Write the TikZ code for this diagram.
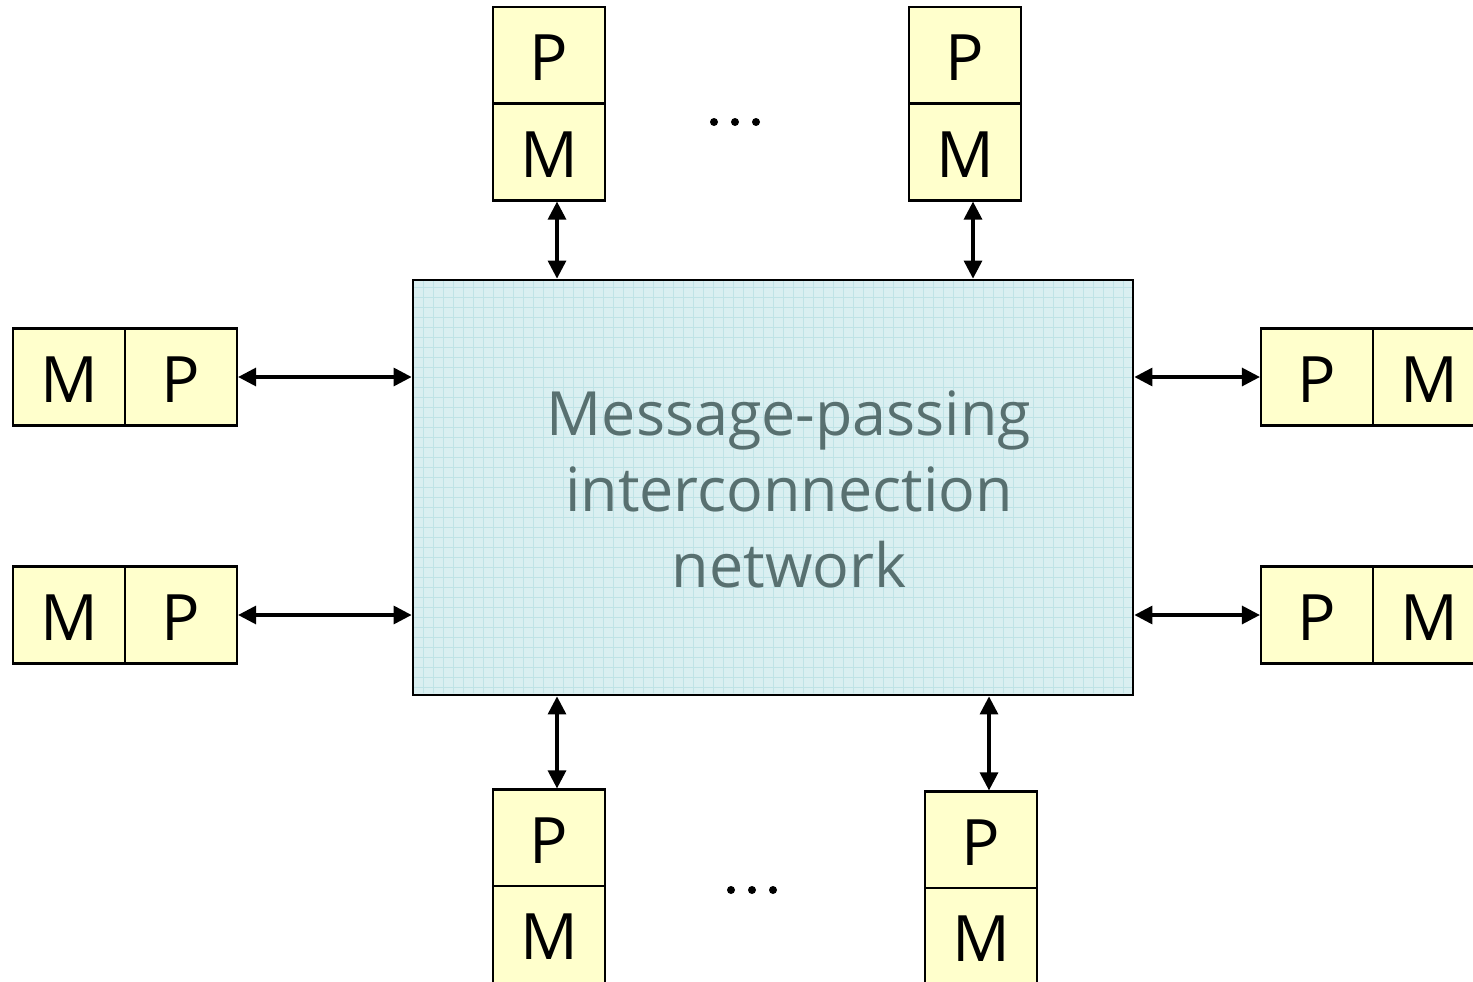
\documentclass[tikz,border=0pt]{standalone}
\usepackage{fontspec}
\setmainfont{Open Sans}
\usetikzlibrary{arrows.meta,calc}
\definecolor{cellfill}{HTML}{FFFFCC}
\definecolor{netfill}{HTML}{DAEFF1}
\definecolor{netgrid}{HTML}{BFE3E6}
\definecolor{nettext}{HTML}{587070}
\tikzset{
  cell/.style={draw=black, line width=2.2pt, fill=cellfill, inner sep=0pt,
    minimum width=112pt, minimum height=97pt, text height=50pt, text depth=0pt,
    font=\fontsize{64}{64}\selectfont},
  netbox/.style={draw=black, line width=2.8pt, fill=netfill, inner sep=0pt,
    minimum width=720pt, minimum height=415pt,
    path picture={\draw[netgrid, line width=0.7pt]
      ([xshift=-2pt,yshift=2pt]path picture bounding box.south west) grid[step=10pt]
      (path picture bounding box.north east);}},
  nettitle/.style={align=center, text=nettext, inner sep=0pt,
    font=\fontsize{61}{76}\selectfont},
  tip/.tip={Triangle[length=18pt,width=18pt]},
  link/.style={line width=3.2pt, tip-tip},
  dot/.style={circle, fill=black, inner sep=0pt, minimum size=8pt}
}
\begin{document}
\begin{tikzpicture}[x=1pt,y=-1pt]
\useasboundingbox (0,0) rectangle (1473,982);
\clip (0,0) rectangle (1473,982);

% central network
\node[netbox] (net) at (773,487.5) {};
\node[nettitle] (title) at (789,489) {Message-passing\\interconnection\\network};

% top processor/memory pairs
\node[cell] (tlP) at (549,55.5) {P};
\node[cell] (tlM) at (549,152) {M};
\node[cell] (trP) at (965,55.5) {P};
\node[cell] (trM) at (965,152) {M};

% left pairs
\node[cell] (l1M) at (69,377) {M};
\node[cell] (l1P) at (181,377) {P};
\node[cell] (l2M) at (69,615) {M};
\node[cell] (l2P) at (181,615) {P};

% right pairs
\node[cell] (r1P) at (1317,377) {P};
\node[cell] (r1M) at (1429,377) {M};
\node[cell] (r2P) at (1317,615) {P};
\node[cell] (r2M) at (1429,615) {M};

% bottom pairs
\node[cell] (blP) at (549,838) {P};
\node[cell] (blM) at (549,934.5) {M};
\node[cell] (brP) at (981,840) {P};
\node[cell] (brM) at (981,936.5) {M};

% ellipses between pairs
\node[dot] (td1) at (714,122) {};
\node[dot] (td2) at (735,122) {};
\node[dot] (td3) at (756,122) {};
\node[dot] (bd1) at (731,890) {};
\node[dot] (bd2) at (752,890) {};
\node[dot] (bd3) at (773,890) {};

% links
\draw[link] ([xshift=8pt]tlM.south) -- ([xshift=8pt]tlM.south |- net.north);
\draw[link] ([xshift=8pt]trM.south) -- ([xshift=8pt]trM.south |- net.north);
\draw[link] (l1P.east) -- (l1P.east -| net.west);
\draw[link] (l2P.east) -- (l2P.east -| net.west);
\draw[link] (r1P.west -| net.east) -- (r1P.west);
\draw[link] (r2P.west -| net.east) -- (r2P.west);
\draw[link] ([xshift=8pt]blP.north |- net.south) -- ([xshift=8pt]blP.north);
\draw[link] ([xshift=8pt]brP.north |- net.south) -- ([xshift=8pt]brP.north);
\end{tikzpicture}
\end{document}
